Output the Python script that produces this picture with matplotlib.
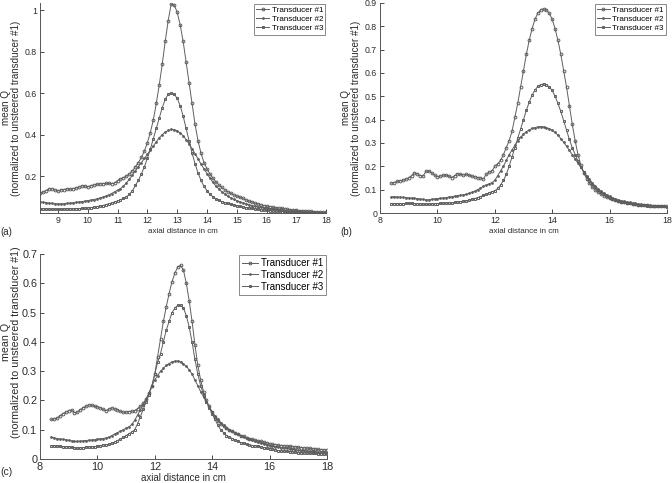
import numpy as np
import matplotlib
matplotlib.use("Agg")
import matplotlib.pyplot as plt
from matplotlib.ticker import FormatStrFormatter

plt.rcParams['font.family'] = ['Liberation Sans', 'DejaVu Sans']

#---------------------------------------------------------- data
# axial positions, 8.4 ... 18.0 cm in 0.1 cm steps
axial_cm = np.round(np.arange(84, 181) / 10.0, 1)
names = ["Transducer #1", "Transducer #2", "Transducer #3"]

# panel (a)
a_t1 = [0.118, 0.122, 0.130, 0.138, 0.140, 0.134,
        0.128, 0.133, 0.135, 0.138, 0.136, 0.140, 0.142, 0.146, 0.153, 0.152,
        0.148, 0.153, 0.157, 0.160, 0.162, 0.163, 0.165, 0.165, 0.164, 0.166,
        0.178, 0.186, 0.192, 0.200, 0.210, 0.225, 0.245, 0.265, 0.290, 0.320,
        0.360, 0.410, 0.470, 0.550, 0.640, 0.740, 0.850, 0.950, 1.030, 1.025,
        0.990, 0.930, 0.850, 0.750, 0.650, 0.550, 0.450, 0.370, 0.310, 0.265,
        0.235, 0.210, 0.190, 0.172, 0.157, 0.145, 0.134, 0.125, 0.117, 0.110,
        0.104, 0.098, 0.092, 0.086, 0.080, 0.075, 0.070, 0.066, 0.062, 0.058,
        0.055, 0.053, 0.050, 0.048, 0.046, 0.044, 0.042, 0.040, 0.038, 0.037,
        0.035, 0.034, 0.033, 0.032, 0.031, 0.030, 0.029, 0.028, 0.027, 0.026,
        0.025]
a_t2 = [0.075, 0.074, 0.072, 0.070, 0.068, 0.067,
        0.066, 0.066, 0.067, 0.068, 0.070, 0.071, 0.073, 0.075, 0.077, 0.079,
        0.082, 0.084, 0.087, 0.090, 0.094, 0.098, 0.103, 0.109, 0.116, 0.124,
        0.132, 0.140, 0.152, 0.168, 0.185, 0.205, 0.225, 0.245, 0.265, 0.285,
        0.305, 0.325, 0.345, 0.365, 0.385, 0.400, 0.412, 0.420, 0.425, 0.424,
        0.418, 0.408, 0.394, 0.376, 0.355, 0.332, 0.308, 0.283, 0.258, 0.235,
        0.212, 0.190, 0.170, 0.152, 0.137, 0.124, 0.113, 0.103, 0.095, 0.088,
        0.082, 0.076, 0.071, 0.066, 0.062, 0.058, 0.055, 0.052, 0.049, 0.047,
        0.045, 0.043, 0.041, 0.039, 0.037, 0.036, 0.034, 0.033, 0.032, 0.031,
        0.030, 0.029, 0.028, 0.027, 0.026, 0.025, 0.025, 0.024, 0.023, 0.023,
        0.022]
a_t3 = [0.042, 0.042, 0.041, 0.041, 0.040, 0.040,
        0.040, 0.040, 0.041, 0.041, 0.042, 0.042, 0.043, 0.043, 0.044, 0.045,
        0.046, 0.048, 0.050, 0.053, 0.055, 0.058, 0.062, 0.066, 0.070, 0.075,
        0.080, 0.086, 0.092, 0.100, 0.112, 0.130, 0.155, 0.180, 0.210, 0.245,
        0.285, 0.330, 0.380, 0.430, 0.480, 0.530, 0.570, 0.595, 0.600, 0.595,
        0.575, 0.540, 0.490, 0.430, 0.370, 0.310, 0.260, 0.215, 0.180, 0.150,
        0.130, 0.112, 0.100, 0.090, 0.083, 0.077, 0.072, 0.068, 0.064, 0.060,
        0.057, 0.054, 0.051, 0.048, 0.046, 0.044, 0.042, 0.040, 0.038, 0.036,
        0.035, 0.034, 0.032, 0.031, 0.030, 0.029, 0.028, 0.027, 0.026, 0.025,
        0.024, 0.023, 0.022, 0.022, 0.021, 0.021, 0.020, 0.020, 0.020, 0.019,
        0.019]

# panel (b)
b_t1 = [0.128, 0.130, 0.135, 0.138, 0.140, 0.145,
        0.150, 0.160, 0.172, 0.168, 0.160, 0.158, 0.178, 0.180, 0.172, 0.162,
        0.155, 0.158, 0.162, 0.162, 0.158, 0.152, 0.160, 0.168, 0.165, 0.163,
        0.165, 0.162, 0.158, 0.155, 0.152, 0.150, 0.146, 0.165, 0.175, 0.180,
        0.200, 0.210, 0.225, 0.250, 0.280, 0.310, 0.350, 0.410, 0.470, 0.540,
        0.610, 0.680, 0.740, 0.790, 0.830, 0.856, 0.870, 0.875, 0.870, 0.855,
        0.830, 0.790, 0.740, 0.680, 0.610, 0.540, 0.460, 0.380, 0.310, 0.250,
        0.205, 0.172, 0.147, 0.127, 0.111, 0.099, 0.089, 0.081, 0.074, 0.068,
        0.063, 0.058, 0.054, 0.051, 0.048, 0.045, 0.043, 0.041, 0.039, 0.037,
        0.036, 0.035, 0.034, 0.033, 0.032, 0.031, 0.030, 0.030, 0.029, 0.029,
        0.028]
b_t2 = [0.070, 0.070, 0.069, 0.068, 0.067, 0.066,
        0.065, 0.064, 0.063, 0.062, 0.060, 0.058, 0.056, 0.057, 0.059, 0.060,
        0.062, 0.063, 0.064, 0.066, 0.068, 0.070, 0.072, 0.074, 0.076, 0.078,
        0.080, 0.084, 0.088, 0.093, 0.100, 0.107, 0.114, 0.120, 0.125, 0.130,
        0.140, 0.160, 0.180, 0.200, 0.225, 0.250, 0.270, 0.290, 0.310, 0.325,
        0.338, 0.348, 0.356, 0.362, 0.366, 0.369, 0.370, 0.369, 0.366, 0.361,
        0.355, 0.345, 0.333, 0.319, 0.303, 0.286, 0.268, 0.250, 0.231, 0.213,
        0.195, 0.177, 0.160, 0.144, 0.129, 0.116, 0.104, 0.094, 0.085, 0.078,
        0.072, 0.066, 0.061, 0.057, 0.053, 0.050, 0.047, 0.045, 0.043, 0.041,
        0.039, 0.037, 0.036, 0.034, 0.033, 0.032, 0.031, 0.030, 0.029, 0.028,
        0.027]
b_t3 = [0.040, 0.040, 0.040, 0.040, 0.040, 0.041,
        0.041, 0.041, 0.040, 0.040, 0.039, 0.038, 0.038, 0.038, 0.039, 0.040,
        0.040, 0.041, 0.042, 0.043, 0.043, 0.044, 0.045, 0.047, 0.049, 0.050,
        0.052, 0.055, 0.058, 0.062, 0.066, 0.070, 0.075, 0.080, 0.086, 0.092,
        0.095, 0.105, 0.120, 0.140, 0.165, 0.200, 0.240, 0.280, 0.320, 0.360,
        0.400, 0.440, 0.475, 0.505, 0.527, 0.542, 0.550, 0.553, 0.550, 0.540,
        0.525, 0.500, 0.470, 0.435, 0.395, 0.355, 0.315, 0.280, 0.250, 0.222,
        0.198, 0.176, 0.156, 0.138, 0.123, 0.110, 0.099, 0.089, 0.080, 0.072,
        0.066, 0.060, 0.056, 0.052, 0.049, 0.046, 0.043, 0.041, 0.039, 0.037,
        0.035, 0.034, 0.033, 0.032, 0.031, 0.030, 0.029, 0.029, 0.028, 0.028,
        0.027]

# panel (c)
c_t1 = [0.135, 0.137, 0.140, 0.147, 0.155, 0.160,
        0.165, 0.168, 0.158, 0.160, 0.168, 0.175, 0.180, 0.185, 0.183, 0.180,
        0.178, 0.175, 0.170, 0.165, 0.170, 0.175, 0.172, 0.168, 0.163, 0.160,
        0.160, 0.162, 0.163, 0.165, 0.172, 0.180, 0.190, 0.205, 0.225, 0.250,
        0.290, 0.350, 0.410, 0.470, 0.520, 0.565, 0.605, 0.635, 0.655, 0.662,
        0.645, 0.600, 0.540, 0.470, 0.390, 0.320, 0.270, 0.230, 0.200, 0.180,
        0.160, 0.145, 0.130, 0.120, 0.112, 0.105, 0.100, 0.095, 0.090, 0.085,
        0.080, 0.077, 0.073, 0.070, 0.067, 0.065, 0.062, 0.060, 0.057, 0.055,
        0.052, 0.050, 0.049, 0.047, 0.046, 0.045, 0.044, 0.043, 0.042, 0.041,
        0.040, 0.039, 0.038, 0.037, 0.036, 0.035, 0.034, 0.033, 0.032, 0.031,
        0.030]
c_t2 = [0.075, 0.072, 0.070, 0.068, 0.067, 0.066,
        0.064, 0.062, 0.060, 0.060, 0.061, 0.062, 0.063, 0.064, 0.065, 0.066,
        0.068, 0.069, 0.070, 0.072, 0.075, 0.080, 0.085, 0.090, 0.095, 0.100,
        0.105, 0.110, 0.118, 0.132, 0.150, 0.168, 0.185, 0.205, 0.225, 0.250,
        0.270, 0.285, 0.300, 0.310, 0.320, 0.326, 0.332, 0.334, 0.335, 0.332,
        0.325, 0.316, 0.305, 0.290, 0.270, 0.250, 0.230, 0.212, 0.195, 0.177,
        0.160, 0.147, 0.135, 0.124, 0.115, 0.107, 0.100, 0.095, 0.090, 0.085,
        0.080, 0.076, 0.072, 0.068, 0.064, 0.060, 0.057, 0.054, 0.051, 0.048,
        0.045, 0.043, 0.042, 0.040, 0.039, 0.037, 0.036, 0.035, 0.033, 0.032,
        0.030, 0.029, 0.029, 0.028, 0.027, 0.026, 0.025, 0.024, 0.023, 0.023,
        0.022]
c_t3 = [0.045, 0.045, 0.044, 0.043, 0.042, 0.042,
        0.042, 0.040, 0.038, 0.037, 0.038, 0.039, 0.040, 0.041, 0.042, 0.042,
        0.043, 0.045, 0.048, 0.049, 0.050, 0.053, 0.058, 0.063, 0.068, 0.074,
        0.080, 0.086, 0.092, 0.100, 0.120, 0.145, 0.170, 0.195, 0.220, 0.250,
        0.290, 0.330, 0.360, 0.400, 0.440, 0.470, 0.500, 0.515, 0.525, 0.525,
        0.515, 0.490, 0.450, 0.400, 0.340, 0.290, 0.250, 0.220, 0.195, 0.175,
        0.155, 0.135, 0.115, 0.100, 0.090, 0.080, 0.075, 0.070, 0.065, 0.060,
        0.056, 0.053, 0.050, 0.048, 0.046, 0.045, 0.043, 0.041, 0.039, 0.037,
        0.035, 0.033, 0.031, 0.029, 0.028, 0.027, 0.026, 0.025, 0.024, 0.023,
        0.022, 0.021, 0.021, 0.020, 0.020, 0.019, 0.019, 0.018, 0.018, 0.017,
        0.017]

#---------------------------------------------------------- plotting
fig = plt.figure(figsize=(6.72, 4.83), dpi=100)

gray = "#5f5f5f"
txt = "#2b2b2b"
styles = [dict(marker="o", ms=2.0, mfc="none", mew=0.7),
          dict(marker=".", ms=2.0),
          dict(marker="s", ms=2.0, mfc="none", mew=0.7)]


def panel(rect, series, xlim, ylim, yticks, xticks, fs, tag, tag_xy, xlab_y,
          xlab_va="center", ylab_pos=0.5, ylab_pad=3):
    # fs = (ticks, legend, ylabel, xlabel, tag)
    ax = fig.add_axes(rect)
    for y, name, st in zip(series, names, styles):
        ax.plot(axial_cm, y, color=gray, lw=0.7, label=name, **st)
    ax.set_xlim(*xlim)
    ax.set_ylim(*ylim)
    ax.set_xticks(xticks)
    ax.set_yticks(yticks)
    ax.yaxis.set_major_formatter(FormatStrFormatter("%g"))
    ax.tick_params(direction="in", length=3, width=0.6, labelsize=fs[0],
                   colors=txt, pad=2)
    for s in ["top", "right"]:
        ax.spines[s].set_visible(False)
    for s in ["left", "bottom"]:
        ax.spines[s].set_color("#555555")
        ax.spines[s].set_linewidth(0.7)
    ax.set_ylabel("mean Q\n(normalized to unsteered transducer #1)",
                  fontsize=fs[2], color=txt, labelpad=ylab_pad,
                  linespacing=0.95)
    ax.yaxis.label.set_y(ylab_pos)
    leg = ax.legend(loc="upper right", fontsize=fs[1], numpoints=1,
                    handlelength=1.6, handletextpad=0.3, borderpad=0.3,
                    labelspacing=0.2, fancybox=False, framealpha=1,
                    borderaxespad=0.1)
    leg.get_frame().set_edgecolor("#888888")
    leg.get_frame().set_linewidth(0.7)
    fig.text(tag_xy[0], tag_xy[1], tag, fontsize=fs[4], color=txt, va="center")
    fig.text(rect[0] + rect[2] / 2, xlab_y, "axial distance in cm",
             fontsize=fs[3], color=txt, ha="center", va=xlab_va)
    return ax


panel([0.0595, 0.559, 0.426, 0.435], [a_t1, a_t2, a_t3], (8.4, 18),
      (0.022, 1.035), [0.2, 0.4, 0.6, 0.8, 1.0], list(range(9, 19)),
      (6.3, 5.8, 7.1, 5.8, 7), "(a)", (0.0, 0.520), 0.520)
panel([0.5655, 0.559, 0.427, 0.435], [b_t1, b_t2, b_t3], (8, 18),
      (0, 0.9), np.round(np.arange(0, 0.91, 0.1), 1), list(range(8, 19, 2)),
      (6.3, 5.8, 7.1, 5.8, 7), "(b)", (0.506, 0.520), 0.520)
panel([0.0595, 0.0497, 0.427, 0.4243], [c_t1, c_t2, c_t3], (8, 18),
      (0, 0.7), np.round(np.arange(0, 0.71, 0.1), 1), list(range(8, 19, 2)),
      (7.8, 7.0, 7.7, 7.0, 7.5), "(c)", (0.0, 0.023), 0.0, "bottom", 0.57, 1)

fig.savefig("out.png", dpi=100)
